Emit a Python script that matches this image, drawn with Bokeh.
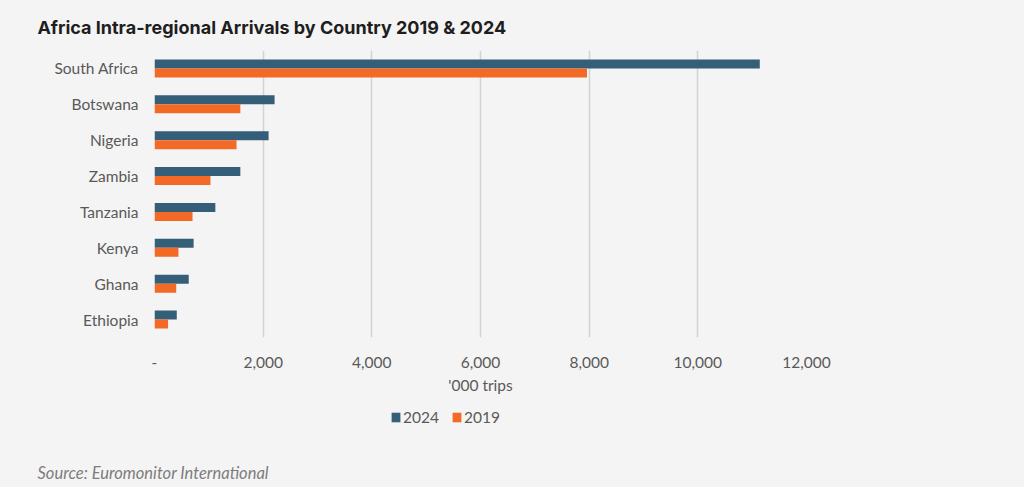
from bokeh.plotting import figure
from bokeh.models import (ColumnDataSource, FactorRange, Range1d, FixedTicker, Title,
                          Legend, LegendItem, Label)
from bokeh.layouts import column
from bokeh.transform import dodge
from bokeh.embed import file_html
from bokeh.resources import INLINE

countries = ["South Africa", "Botswana", "Nigeria", "Zambia", "Tanzania", "Kenya", "Ghana", "Ethiopia"]
arrivals_2024 = [11140, 2210, 2100, 1580, 1120, 720, 630, 410]
arrivals_2019 = [7960, 1580, 1510, 1030, 700, 440, 400, 250]
series_names = ["2024", "2019"]
x_ticks = [0, 2000, 4000, 6000, 8000, 10000, 12000]
x_tick_labels = ["-", "2,000", "4,000", "6,000", "8,000", "10,000", "12,000"]

BG = "#f4f4f4"
BLUE = "#355e79"
ORANGE = "#f26a25"
GREY_TXT = "#595959"
FS = "15.5px"

src = ColumnDataSource(dict(country=countries, y2024=arrivals_2024, y2019=arrivals_2019))

# ---------------- main chart ----------------
p = figure(width=1024, height=400, output_backend="svg", toolbar_location=None,
           y_range=FactorRange(*list(reversed(countries))),
           x_range=Range1d(0, 12000),
           min_border_left=154, min_border_right=218, min_border_top=50, min_border_bottom=63,
           background_fill_color=BG, border_fill_color=BG, outline_line_color=None,
           frame_align=False)

p.hbar(y=dodge("country", 0.125, range=p.y_range), right="y2024", left=0, height=0.25,
       source=src, color=BLUE, line_color=None)
p.hbar(y=dodge("country", -0.125, range=p.y_range), right="y2019", left=0, height=0.25,
       source=src, color=ORANGE, line_color=None)

p.xaxis.ticker = FixedTicker(ticks=x_ticks)
p.xaxis.major_label_overrides = {t: l for t, l in zip(x_ticks, x_tick_labels)}
p.xaxis.axis_line_color = None
p.xaxis.major_tick_line_color = None
p.xaxis.minor_tick_line_color = None
p.xaxis.major_label_text_font = "Lato"
p.xaxis.major_label_text_font_size = FS
p.xaxis.major_label_text_color = GREY_TXT
p.xaxis.major_label_standoff = 13
p.xaxis.axis_label = "'000 trips"
p.xaxis.axis_label_text_font = "Lato"
p.xaxis.axis_label_text_font_style = "normal"
p.xaxis.axis_label_text_font_size = FS
p.xaxis.axis_label_text_color = GREY_TXT
p.xaxis.axis_label_standoff = 5

p.yaxis.axis_line_color = None
p.yaxis.major_tick_line_color = None
p.yaxis.minor_tick_line_color = None
p.yaxis.major_label_text_font = "Lato"
p.yaxis.major_label_text_font_size = FS
p.yaxis.major_label_text_color = GREY_TXT
p.yaxis.major_label_standoff = 10

p.ygrid.grid_line_color = None
p.xgrid.grid_line_color = "#d3d3d3"
p.xgrid.grid_line_width = 1.5

p.title = Title(text="Africa Intra-regional Arrivals by Country 2019 & 2024",
                align="left", offset=-117, standoff=26, vertical_align="bottom",
                text_font="Inter", text_font_style="bold", text_font_size="18px",
                text_color="#1e1e1e")

# ---------------- footer: legend + source ----------------
p2 = figure(width=1024, height=87, output_backend="svg", toolbar_location=None,
            x_range=Range1d(0, 1024), y_range=Range1d(0, 87),
            x_axis_location=None, y_axis_location=None,
            min_border_left=0, min_border_right=0, min_border_top=0, min_border_bottom=0,
            background_fill_color=BG, border_fill_color=BG, outline_line_color=None,
            frame_align=False)
p2.grid.visible = False
nan = float("nan")
k24 = p2.hbar(y=[nan], right=[nan], height=1, color=BLUE, line_color=None)
k19 = p2.hbar(y=[nan], right=[nan], height=1, color=ORANGE, line_color=None)

legend = Legend(items=[LegendItem(label=series_names[0], renderers=[k24]),
                       LegendItem(label=series_names[1], renderers=[k19])],
                orientation="horizontal", location=(390, 61),
                background_fill_alpha=0, border_line_color=None,
                glyph_width=11, glyph_height=12, label_standoff=2, spacing=12,
                padding=0, margin=0, label_height=9,
                label_text_font="Lato", label_text_font_size=FS,
                label_text_color=GREY_TXT)
p2.add_layout(legend, "center")

p2.add_layout(Label(x=37, y=15, text="Source: Euromonitor International",
                    text_font="Lato", text_font_style="italic", text_font_size="16.5px",
                    text_color="#7d7d7d", text_baseline="middle"))

layout = column(p, p2, spacing=0)

html = file_html(layout, INLINE)
html = html.replace("</head>", "<style>html, body { background: %s; }</style>\n</head>" % BG, 1)
open("out.html", "w").write(html)
